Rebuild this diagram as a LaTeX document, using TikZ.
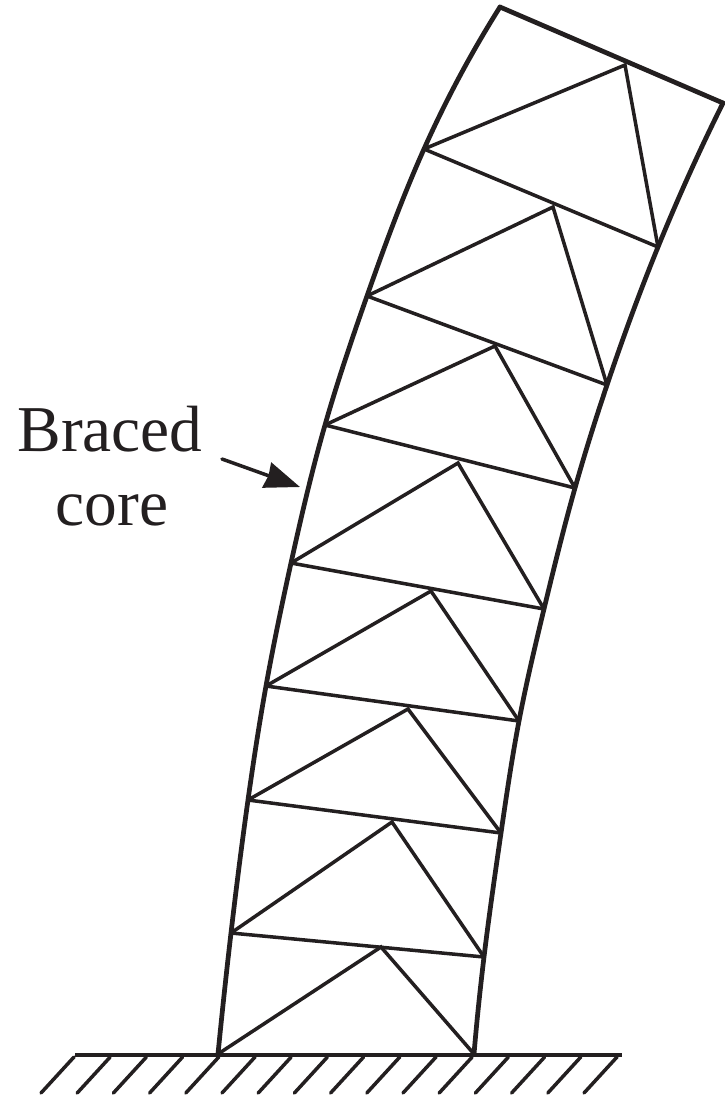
\documentclass[tikz,border=0pt]{standalone}
\usepackage{fontspec}
\setmainfont{Liberation Serif}
\usetikzlibrary{hobby}
\usetikzlibrary{arrows.meta}
\definecolor{coreink}{HTML}{231F20}
\tikzset{
  chord/.style = {coreink, line width = 1.35pt, line cap = round, line join = round},
  web/.style = {coreink, line width = 1pt, line cap = round},
  label/.style = {coreink, inner sep = 0pt, font = \fontsize{18.6}{22}\selectfont},
}

\begin{document}
\begin{tikzpicture}[x = 0.01cm, y = -0.01cm]%
    \useasboundingbox (0, 0) rectangle (725, 1096);

    % left side of the core
    \coordinate (l0) at (218, 1054);
    \coordinate (l1) at (231, 933);
    \coordinate (l2) at (248, 800);
    \coordinate (l3) at (266, 686);
    \coordinate (l4) at (291, 563);
    \coordinate (l5) at (325, 425);
    \coordinate (l6) at (367, 296);
    \coordinate (l7) at (424, 149);
    \coordinate (l8) at (500, 7);

    % right side of the core
    \coordinate (r0) at (474, 1054);
    \coordinate (r1) at (484, 957);
    \coordinate (r2) at (501, 833);
    \coordinate (r3) at (519, 721);
    \coordinate (r4) at (544, 609);
    \coordinate (r5) at (575, 488);
    \coordinate (r6) at (607, 385);
    \coordinate (r7) at (658, 247);
    \coordinate (r8) at (723, 103);

    % tops of the braces
    \coordinate (a1) at (381, 947);
    \coordinate (a2) at (392, 822);
    \coordinate (a3) at (408, 709);
    \coordinate (a4) at (431, 591);
    \coordinate (a5) at (458, 463);
    \coordinate (a6) at (495, 346);
    \coordinate (a7) at (553, 207);
    \coordinate (a8) at (625, 65);

    \draw[chord] (l0) to[curve through = {(l1) (l2) (l3) (l4) (l5) (l6) (l7)}] (l8);
    \draw[chord] (r0) to[curve through = {(r1) (r2) (r3) (r4) (r5) (r6) (r7)}] (r8);
    \draw[chord] (l8) -- (r8);

    \foreach \i in {1, ..., 7} {
      \draw[web] (l\i) -- (r\i);
    }

    \foreach \i [evaluate = \i as \j using int(\i - 1)] in {1, ..., 8} {
      \draw[web] (l\j) -- (a\i) -- (r\j);
    }

    % ground
    \coordinate (g0) at (75, 1055);
    \coordinate (g1) at (622, 1055);
    \draw[chord, line cap = butt] (g0) -- (g1);
    \foreach \i in {0, ..., 15} {
      \draw[web] (74 + \i * 36.2, 1057) -- (41 + \i * 36.2, 1093);
    }

    \node[label] (braced) at (110, 429) {Braced};
    \node[label] (core) at (112, 510) {core};

    \coordinate (tail) at (222, 459);
    \coordinate (tip) at (300, 487);
    \draw[web, -{Stealth[length = 10pt, width = 7.5pt, inset = 0.5pt]}] (tail) -- (tip);
\end{tikzpicture}
\end{document}
